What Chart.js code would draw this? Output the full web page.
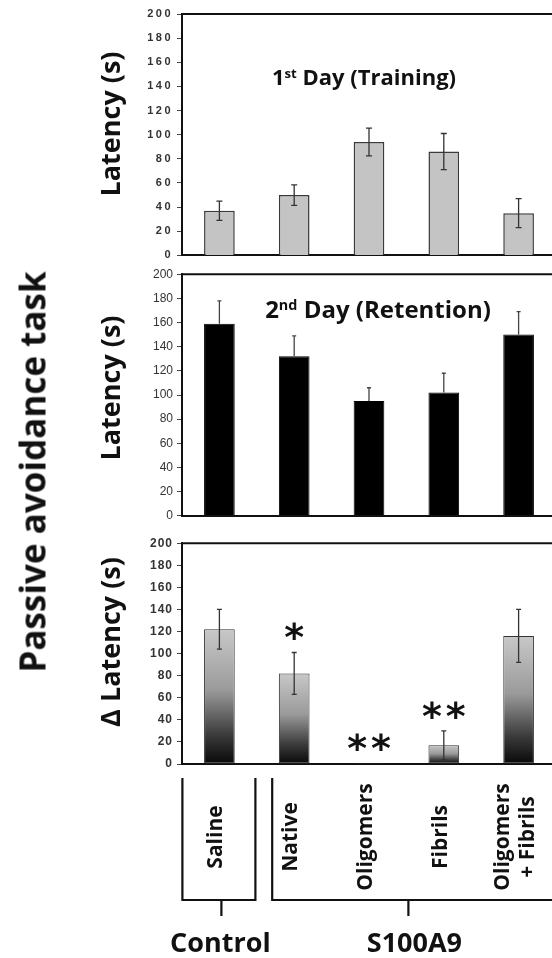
<!DOCTYPE html>
<html>
<head>
<meta charset="utf-8">
<script src="https://cdn.jsdelivr.net/npm/chart.js@4"></script>
<style>
  html, body { margin: 0; padding: 0; background: #fff; overflow: hidden; }
  #wrap { position: relative; width: 552px; height: 958px; overflow: hidden; }
  canvas { position: absolute; left: 0; }
  .lbl { position: absolute; white-space: nowrap; font-family: "Open Sans", sans-serif; font-weight: 700; color: #111; line-height: 1; }
  .rot { transform: translate(-50%, -50%) rotate(-90deg); }
  .ctr { transform: translate(-50%, -50%); }
  sup { font-size: 0.6em; vertical-align: 0.55em; }
</style>
</head>
<body>
<div id="wrap">
  <canvas id="day1Chart" width="556" height="266" style="top:0px"></canvas>
  <canvas id="day2Chart" width="556" height="264" style="top:263px"></canvas>
  <canvas id="deltaChart" width="556" height="426" style="top:532px"></canvas>

  <div class="lbl rot" style="left:32px; top:472px; font-size:35px;">Passive avoidance task</div>
  <div class="lbl rot" style="left:109px; top:124px; font-size:27px;">Latency (s)</div>
  <div class="lbl rot" style="left:109px; top:388px; font-size:27px;">Latency (s)</div>
  <div class="lbl rot" style="left:109px; top:642px; font-size:27px;">&Delta; Latency (s)</div>
  <div class="lbl ctr" style="left:364px; top:76px; font-size:22px;">1<sup>st</sup> Day (Training)</div>
  <div class="lbl ctr" style="left:378px; top:309px; font-size:24px;">2<sup>nd</sup> Day (Retention)</div>
</div>

<script>
// ---- 数据 ----
const groups = ['Saline', 'Native', 'Oligomers', 'Fibrils', ['Oligomers', '+ Fibrils']];
const day1 = [37, 50, 94, 86, 35];
const day1Err = [8, 8.5, 11.5, 15, 12];
const day2 = [159, 132, 95, 102, 150];
const day2Err = [19, 17, 11, 16, 19];
const delta = [122, 82, 1, 17, 116];
const deltaErr = [18, 19, 0, 13, 24];
const deltaSig = ['', '*', '**', '**', ''];
const groupNames = ['Control', 'S100A9'];
const groupRanges = [[0, 0], [1, 4]];
const yMin = 0, yMax = 200, yStep = 20;

// 误差线
const errorBars = {
  id: 'errorBars',
  beforeDraw(chart, args, opts) {
    chart.ctx.letterSpacing = opts.spacing || '0px';
  },
  afterDatasetsDraw(chart, args, opts) {
    const { ctx, scales: { x, y } } = chart;
    ctx.save();
    ctx.letterSpacing = '0px';
    ctx.strokeStyle = opts.color;
    ctx.lineWidth = 1.3;
    const vals = chart.data.datasets[0].data;
    opts.errors.forEach((e, i) => {
      if (!e) return;
      const cx = x.getPixelForValue(i);
      const top = y.getPixelForValue(vals[i] + e);
      const bot = opts.both ? y.getPixelForValue(vals[i] - e) : y.getPixelForValue(vals[i]);
      ctx.beginPath();
      ctx.moveTo(cx, top); ctx.lineTo(cx, bot);
      ctx.moveTo(cx - opts.cap, top); ctx.lineTo(cx + opts.cap, top);
      if (opts.both) { ctx.moveTo(cx - opts.cap, bot); ctx.lineTo(cx + opts.cap, bot); }
      ctx.stroke();
    });
    // 显著性星号
    if (opts.sig) {
      ctx.fillStyle = '#111';
      ctx.font = 'bold 38px "DejaVu Sans"';
      ctx.textAlign = 'center';
      ctx.textBaseline = 'middle';
      opts.sig.forEach((s, i) => {
        if (!s) return;
        const cx = x.getPixelForValue(i);
        const top = y.getPixelForValue(vals[i] + opts.errors[i]);
        ctx.letterSpacing = '4px';
        ctx.fillText(s, cx + 2, top - 12);
      });
    }
    ctx.restore();
  }
};

// 上边框
const topFrame = {
  id: 'topFrame',
  afterDraw(chart) {
    const { ctx, chartArea: a } = chart;
    ctx.save();
    ctx.strokeStyle = '#111';
    ctx.lineWidth = 2;
    ctx.beginPath();
    ctx.moveTo(a.left, a.top); ctx.lineTo(a.right, a.top);
    ctx.stroke();
    ctx.restore();
  }
};

// 底部分组标签与括号 (相对于绘图区底部)
const groupLabels = {
  id: 'groupLabels',
  afterDraw(chart) {
    const { ctx, scales: { x }, chartArea: a } = chart;
    const b = a.bottom;
    ctx.save();
    ctx.letterSpacing = '0px';
    ctx.fillStyle = '#111';
    ctx.font = 'bold 21px "Open Sans"';
    ctx.textAlign = 'center';
    ctx.textBaseline = 'middle';
    groups.forEach((g, i) => {
      const lines = Array.isArray(g) ? g : [g];
      const cx = x.getPixelForValue(i) - 3;
      ctx.save();
      ctx.translate(cx, b + 73);
      ctx.rotate(-Math.PI / 2);
      lines.forEach((t, k) => ctx.fillText(t, 0, (k - (lines.length - 1) / 2) * 25));
      ctx.restore();
    });
    ctx.strokeStyle = '#111';
    ctx.lineWidth = 2.2;
    const yTop = b + 14, yLine = b + 136, yTick = b + 152;
    ctx.font = 'bold 27px "Open Sans"';
    ctx.textBaseline = 'alphabetic';
    groupRanges.forEach(([s, e], k) => {
      const l = s === 0 ? x.getPixelForValue(s) - 37 : x.getPixelForValue(s) - 22;
      const r = e === 0 ? x.getPixelForValue(e) + 36 : x.getPixelForValue(e) + 60;
      const mid = (x.getPixelForValue(s) + x.getPixelForValue(e)) / 2 + 2;
      ctx.beginPath();
      ctx.moveTo(l, yTop); ctx.lineTo(l, yLine); ctx.lineTo(r, yLine); ctx.lineTo(r, yTop);
      ctx.moveTo(mid, yLine); ctx.lineTo(mid, yTick);
      ctx.stroke();
      ctx.fillText(groupNames[k], mid + (k === 0 ? -1 : 6), b + 188);
    });
    ctx.restore();
  }
};

function makeScales(tickFont) {
  return {
    x: {
      ticks: { display: false },
      grid: { display: false, drawTicks: false },
      border: { display: true, color: '#111', width: 2 }
    },
    y: {
      min: yMin, max: yMax,
      ticks: { stepSize: yStep, font: tickFont, color: '#333', padding: 4 },
      grid: { drawOnChartArea: false, tickLength: 5, color: '#444' },
      border: { display: true, color: '#111', width: 2 },
      afterFit: s => { s.width = 182; }
    }
  };
}

// 图 1: 第一天
new Chart(document.getElementById('day1Chart'), {
  type: 'bar',
  data: {
    labels: groups,
    datasets: [{
      data: day1,
      backgroundColor: '#c4c4c4',
      borderColor: '#3a3a3a',
      borderWidth: 1.5,
      categoryPercentage: 1,
      barPercentage: 0.41
    }]
  },
  options: {
    responsive: false, animation: false,
    layout: { padding: { left: 0, right: 0, top: 14, bottom: 10 } },
    plugins: {
      legend: { display: false }, tooltip: { enabled: false },
      errorBars: { errors: day1Err, both: true, cap: 3, color: '#333', spacing: '2.5px' }
    },
    scales: makeScales({ family: 'Arial, "Liberation Sans"', size: 11, weight: 'bold' })
  },
  plugins: [errorBars, topFrame]
});

// 图 2: 第二天
new Chart(document.getElementById('day2Chart'), {
  type: 'bar',
  data: {
    labels: groups,
    datasets: [{
      data: day2,
      backgroundColor: '#000',
      borderColor: '#000',
      borderWidth: 1,
      categoryPercentage: 1,
      barPercentage: 0.41
    }]
  },
  options: {
    responsive: false, animation: false,
    layout: { padding: { left: 0, right: 0, top: 10, bottom: 10 } },
    plugins: {
      legend: { display: false }, tooltip: { enabled: false },
      errorBars: { errors: day2Err, both: false, cap: 2, color: '#444' }
    },
    scales: makeScales({ family: '"Liberation Sans Narrow", Arial', size: 12 })
  },
  plugins: [errorBars, topFrame]
});

// 图 3: 差值 (渐变柱)
new Chart(document.getElementById('deltaChart'), {
  type: 'bar',
  data: {
    labels: groups,
    datasets: [{
      data: delta,
      backgroundColor: c => {
        const chart = c.chart;
        const y = chart.scales.y;
        if (!y || c.raw == null) return '#888';
        const top = y.getPixelForValue(c.raw), base = y.getPixelForValue(0);
        if (!isFinite(top) || !isFinite(base)) return '#888';
        if (base - top < 2) return '#333';
        const g = chart.ctx.createLinearGradient(0, top, 0, base);
        g.addColorStop(0, '#c8c8c8');
        g.addColorStop(0.45, '#9a9a9a');
        g.addColorStop(0.78, '#3c3c3c');
        g.addColorStop(1, '#080808');
        return g;
      },
      borderColor: '#333',
      borderWidth: 1,
      borderSkipped: false,
      categoryPercentage: 1,
      barPercentage: 0.41
    }]
  },
  options: {
    responsive: false, animation: false,
    layout: { padding: { left: 0, right: 0, top: 10, bottom: 194 } },
    plugins: {
      legend: { display: false }, tooltip: { enabled: false },
      errorBars: { errors: deltaErr, both: true, cap: 2.5, color: '#333', sig: deltaSig, spacing: '1px' }
    },
    scales: makeScales({ family: 'Arial, "Liberation Sans"', size: 12, weight: 'bold' })
  },
  plugins: [errorBars, topFrame, groupLabels]
});
</script>
</body>
</html>
